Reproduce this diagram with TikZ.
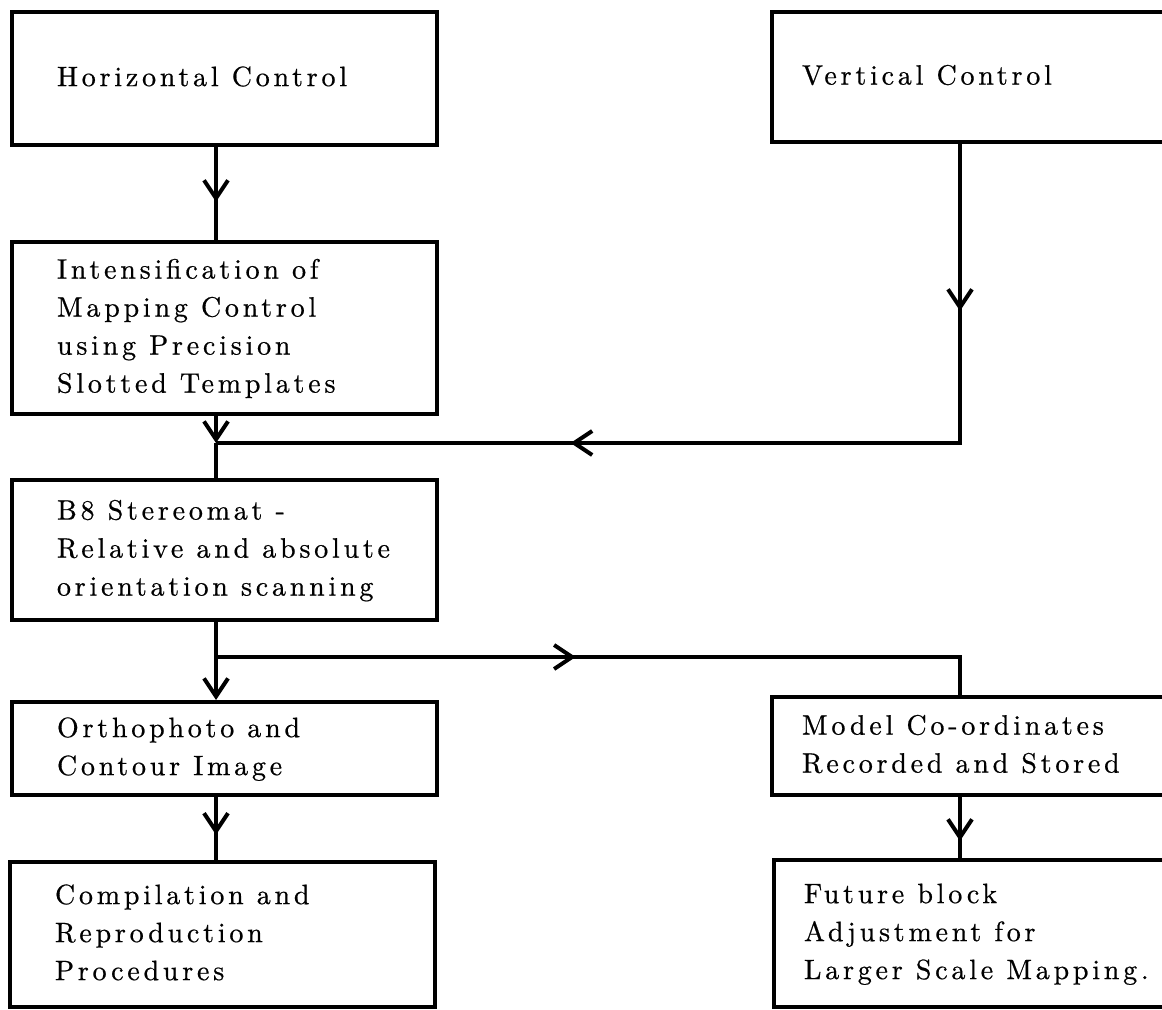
\documentclass[tikz,border=0pt]{standalone}
\usepackage{fontspec}
\newfontfamily\stagefont{lmroman10-regular}[Extension=.otf,LetterSpace=13.5,FakeBold=0.6]
\usetikzlibrary{arrows.meta,positioning,decorations.markings}
\newcommand{\boxlines}[2]{\makebox[#1][l]{\begin{tabular}{@{}l@{}}#2\end{tabular}}}

\begin{document}
\begin{tikzpicture}[x=0.5pt,y=-0.5pt,
  >={Straight Barb[length=9pt,width=12pt]},
  stage/.style={draw,line width=2pt,anchor=north west,inner ysep=0pt,
    font=\stagefont\fontsize{14}{19}\selectfont},
  leftstage/.style={stage,inner xsep=22.5pt},
  rightstage/.style={stage,inner xsep=15pt},
  flow/.style={line width=2pt},
  midarrow/.style={postaction={decorate,decoration={markings,mark=at position #1 with {\arrow{>}}}}}]
\useasboundingbox (0,0) rectangle (1162,1010);
\clip (0,0) rectangle (1162,1010);
\node[leftstage,minimum height=66.5pt] (hc) at (10,10) {\boxlines{167.5pt}{Horizontal Control}};
\node[leftstage,minimum height=86pt] (int) at (10,240) {\boxlines{167.5pt}{Intensification of\\Mapping Control\\using Precision\\Slotted Templates}};
\node[leftstage,minimum height=70pt] (b8) at (10,478) {\boxlines{167.5pt}{B8 Stereomat -\\Relative and absolute\\orientation scanning}};
\node[leftstage,minimum height=46.5pt] (ortho) at (10,700) {\boxlines{167.5pt}{Orthophoto and\\Contour Image}};
\node[leftstage,minimum height=72.5pt] (comp) at (8,860) {\boxlines{167.5pt}{Compilation and\\Reproduction\\Procedures}};
\node[rightstage,minimum height=65pt] (vc) at (770,10) {\boxlines{180pt}{Vertical Control}};
\node[rightstage,minimum height=49pt] (mc) at (770,695) {\boxlines{180pt}{Model Co-ordinates\\Recorded and Stored}};
\node[rightstage,minimum height=73.5pt] (fb) at (772,858) {\boxlines{180pt}{Future block\\Adjustment for\\Larger Scale Mapping.}};
\coordinate (lcol) at (216,0);
\coordinate (rcol) at (960,0);
\coordinate (j1l) at (216,443);
\coordinate (j2l) at (216,657);
\draw[flow,midarrow=0.59] (hc.south -| lcol) -- (int.north -| lcol);
\draw[flow,->] (int.south -| lcol) -- (j1l);
\draw[flow] (j1l) -- (b8.north -| lcol);
\draw[flow,midarrow=0.16,midarrow=0.66] (vc.south -| rcol) |- (j1l);
\draw[flow,->] (b8.south -| lcol) -- (ortho.north -| lcol);
\draw[flow,midarrow=0.46] (j2l) -| (mc.north -| rcol);
\draw[flow,midarrow=0.6] (ortho.south -| lcol) -- (comp.north -| lcol);
\draw[flow,midarrow=0.72] (mc.south -| rcol) -- (fb.north -| rcol);
\end{tikzpicture}
\end{document}
